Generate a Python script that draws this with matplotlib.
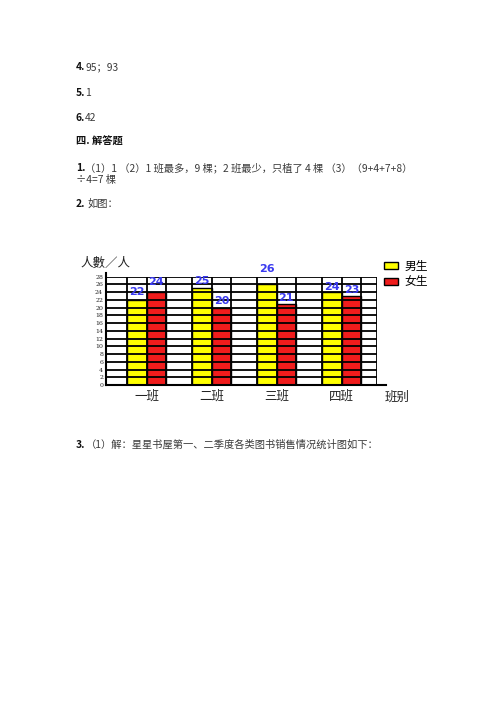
import numpy as np
import matplotlib
matplotlib.use("Agg")
import matplotlib.pyplot as plt

plt.rcParams['font.family'] = ['Noto Sans CJK SC', 'DejaVu Sans']

# chart data
classes = ['一班', '二班', '三班', '四班']
boys = [22, 25, 26, 24]
girls = [24, 20, 21, 23]
series_names = ['男生', '女生']
y_ticks = list(range(0, 29, 2))

COLOR_BOY = '#ffff00'
COLOR_GIRL = '#f01c1c'
COLOR_LABEL = '#3a3af0'
COLOR_TEXT = '#3a3a3a'

W, H = 500, 707
fig = plt.figure(figsize=(5, 7.07), dpi=100)

# page text above / below the chart
def page_line(y, num, rest, x_rest=85):
    fig.text(76 / W, 1 - y / H, num, fontsize=7.4, fontweight='bold',
             color='#111111', va='center', ha='left')
    if rest:
        fig.text(x_rest / W, 1 - y / H, rest, fontsize=7.4, color=COLOR_TEXT,
                 va='center', ha='left')

page_line(67, '4.', '95；93')
page_line(93, '5.', '1')
page_line(118, '6.', '42')
fig.text(76 / W, 1 - 142 / H, '四. 解答题', fontsize=7.4, fontweight='bold',
         color='#111111', va='center', ha='left')
page_line(168, '1.', '（1）1 （2）1 班最多，9 棵；2 班最少，只植了 4 棵 （3）（9+4+7+8）', x_rest=85)
fig.text(76 / W, 1 - 179.5 / H, '÷4=7 棵', fontsize=7.4, color=COLOR_TEXT,
         va='center', ha='left')
page_line(204, '2.', '如图：', x_rest=87)
page_line(445, '3.', '（1）解：星星书屋第一、二季度各类图书销售情况统计图如下：', x_rest=86)

# chart axes
left, right, top, bottom = 106, 376.7, 276.7, 385
ax = fig.add_axes([left / W, 1 - bottom / H, (right - left) / W, (bottom - top) / H])
ax.patch.set_alpha(0)

x = np.arange(len(classes))
w = 0.297
xmin, xmax = -0.626, 3.538
ax.set_xlim(xmin, xmax)
ax.set_ylim(0, 28)

b1 = ax.bar(x - w / 2, boys, w, color=COLOR_BOY, edgecolor='black', lw=1.0,
            label=series_names[0], zorder=2)
b2 = ax.bar(x + w / 2, girls, w, color=COLOR_GIRL, edgecolor='black', lw=1.0,
            label=series_names[1], zorder=2)

# grid drawn over the bars
for yv in y_ticks[1:]:
    ax.plot([xmin, xmax], [yv, yv], color='black', lw=1.3, zorder=3)
vx = sorted(set([xmin, xmax] + list(x - w) + list(x) + list(x + w)))
for xv in vx:
    ax.plot([xv, xv], [0, 28], color='black', lw=1.3, zorder=3)
# axis lines
ax.plot([xmin, xmin], [0, 29], color='black', lw=1.5, zorder=4, clip_on=False)
ax.plot([xmin, xmax + 0.145], [0, 0], color='black', lw=1.5, zorder=4, clip_on=False)

for s in ax.spines.values():
    s.set_visible(False)

# value labels
label_lift = [[6, 5, 11, 4], [7, 5, 4, 4]]
for gi, (bars, vals) in enumerate([(b1, boys), (b2, girls)]):
    for i, (r, v) in enumerate(zip(bars, vals)):
        ax.annotate(str(v), (r.get_x() + r.get_width() / 2, v),
                    xytext=(0, label_lift[gi][i]), textcoords='offset points',
                    ha='center', va='center', fontsize=8, fontweight='bold',
                    color=COLOR_LABEL, family='DejaVu Sans', zorder=6,
                    annotation_clip=False)

ax.set_yticks(y_ticks)
ax.set_yticklabels([str(t) for t in y_ticks], fontsize=4.5, family='DejaVu Serif',
                   color='#222222')
ax.set_xticks(x)
ax.set_xticklabels(classes, fontsize=9, color='#222222')
ax.tick_params(axis='y', length=0, pad=2)
ax.tick_params(axis='x', length=0, pad=3)

fig.text(105 / W, 1 - 263 / H, '人數／人', fontsize=9, color='#222222',
         ha='center', va='center')
fig.text(397 / W, 1 - 397 / H, '班别', fontsize=9, color='#222222',
         ha='center', va='center')

ax.legend(handles=[b1, b2], loc='upper left', bbox_to_anchor=(384 / W, 1 - 260 / H),
          bbox_transform=fig.transFigure, frameon=False, fontsize=8.5,
          handlelength=1.2, handleheight=0.5, handletextpad=0.5,
          labelspacing=0.2, borderpad=0, borderaxespad=0)

fig.savefig('out.png', dpi=100, facecolor='white')
